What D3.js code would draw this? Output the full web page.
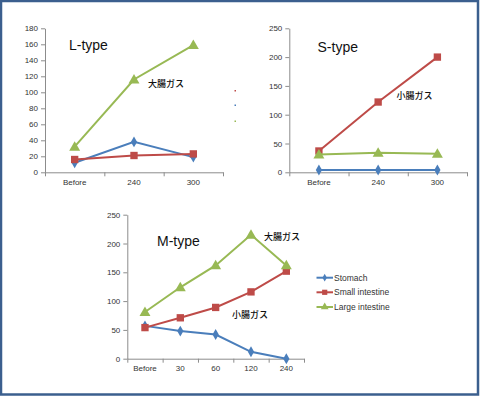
<!DOCTYPE html>
<html>
<head>
<meta charset="utf-8">
<script src="https://cdn.jsdelivr.net/npm/d3@7"></script>
<style>
  body { margin: 0; background: #fff; }
  svg text { font-family: "Liberation Sans", Arial, sans-serif; }
</style>
</head>
<body>
<div id="chart"></div>
<script>
const seriesNames = ['Stomach', 'Small intestine', 'Large intestine']
const colors = ['#4a7ebb', '#be4b48', '#98b954']

const lCats = ['Before', '240', '300']
const lStomach = [12, 38, 19]
const lSmall = [16, 21, 23]
const lLarge = [32, 116, 159]

const sCats = ['Before', '240', '300']
const sStomach = [4, 4, 4]
const sSmall = [37, 122, 200]
const sLarge = [31, 34, 32]

const mCats = ['Before', '30', '60', '120', '240']
const mStomach = [57, 48, 42, 12, 0]
const mSmall = [54, 71, 89, 116, 152]
const mLarge = [81, 124, 162, 215, 162]

const width = 480
const height = 397

const svg = d3.select('#chart').append('svg').attr('width', width).attr('height', height)

svg.append('rect')
  .attr('x', 1).attr('y', 1).attr('width', 477).attr('height', 393.5)
  .attr('fill', '#fff').attr('stroke', '#3b5f8e').attr('stroke-width', 2.5)

const symbols = [d3.symbolDiamond, d3.symbolSquare, d3.symbolTriangle]
const symSize = [34, 54, 52]

function panel(opt) {
  const g = svg.append('g')
  const x = d3.scaleBand().domain(opt.cats).range([opt.x0, opt.x1])
  const y = d3.scaleLinear().domain([0, opt.max]).range([opt.y0, opt.y1])
  const edge = d3.scaleLinear().domain([0, opt.cats.length]).range([opt.x0, opt.x1])

  const ya = g.append('g').attr('transform', `translate(${opt.x0},0)`)
    .call(d3.axisLeft(y).tickValues(d3.range(0, opt.max + 1, opt.step)).tickSize(4).tickPadding(3).tickSizeOuter(0))
  const xa = g.append('g').attr('transform', `translate(0,${opt.y0})`)
    .call(d3.axisBottom(edge).tickValues(d3.range(0, opt.cats.length + 1)).tickSize(4).tickFormat('').tickSizeOuter(0))
  const xl = g.append('g').attr('transform', `translate(0,${opt.y0})`)
    .call(d3.axisBottom(x).tickSize(0).tickPadding(7).tickSizeOuter(0))
  xl.select('.domain').remove()
  ;[ya, xa].forEach(a => a.selectAll('.domain, line').attr('stroke', '#8c8c8c'))
  ;[ya, xl].forEach(a => a.selectAll('text').attr('fill', '#333').style('font-size', '8px'))

  const cx = d => x(d) + x.bandwidth() / 2
  opt.series.forEach((vals, i) => {
    const pts = vals.map((v, j) => [cx(opt.cats[j]), y(v)])
    g.append('path').attr('d', d3.line()(pts))
      .attr('fill', 'none').attr('stroke', colors[i]).attr('stroke-width', 2)
    g.selectAll(null).data(pts).join('path')
      .attr('transform', p => `translate(${p[0]},${p[1] + (i === 2 ? 0.8 : 0)})`)
      .attr('d', d3.symbol(symbols[i], symSize[i]))
      .attr('fill', colors[i])
  })

  g.append('text').attr('x', opt.title[1]).attr('y', opt.title[2])
    .style('font-size', '14px').attr('fill', '#111').text(opt.title[0])
  opt.notes.forEach(n => {
    g.append('text').attr('x', n[1]).attr('y', n[2])
      .style('font-family', '"Noto Sans CJK JP", sans-serif')
      .style('font-size', '9px').style('font-weight', 500).attr('fill', '#111').text(n[0])
  })
}

panel({ cats: lCats, series: [lStomach, lSmall, lLarge], max: 180, step: 20,
  x0: 45, x1: 223, y0: 172.3, y1: 28.3,
  title: ['L-type', 69, 50], notes: [['大腸ガス', 148, 87]] })

panel({ cats: sCats, series: [sStomach, sSmall, sLarge], max: 250, step: 50,
  x0: 289.3, x1: 467, y0: 172.3, y1: 28.3,
  title: ['S-type', 317.5, 52], notes: [['小腸ガス', 396.5, 98.5]] })

panel({ cats: mCats, series: [mStomach, mSmall, mLarge], max: 250, step: 50,
  x0: 127.3, x1: 304, y0: 358.7, y1: 214.7,
  title: ['M-type', 157, 246], notes: [['大腸ガス', 264, 240], ['小腸ガス', 232, 318]] })

// leftover legend marks beside L-type
;[90.5, 105, 121].forEach((yy, i) => {
  svg.append('rect').attr('x', 234.5).attr('y', yy - 0.5).attr('width', 1.5).attr('height', 1.5)
    .attr('fill', colors[[1, 0, 2][i]])
})

// legend
const legend = svg.append('g')
seriesNames.forEach((name, i) => {
  const yy = [277.7, 292.3, 307][i]
  legend.append('line').attr('x1', 316.5).attr('x2', 333).attr('y1', yy).attr('y2', yy)
    .attr('stroke', colors[i]).attr('stroke-width', 2)
  legend.append('path').attr('transform', `translate(324.7,${yy})`)
    .attr('d', d3.symbol(symbols[i], symSize[i] * 0.5)).attr('fill', colors[i])
  legend.append('text').attr('x', 334).attr('y', yy + 3)
    .style('font-size', '8.5px').attr('fill', '#333').text(name)
})
</script>
</body>
</html>
